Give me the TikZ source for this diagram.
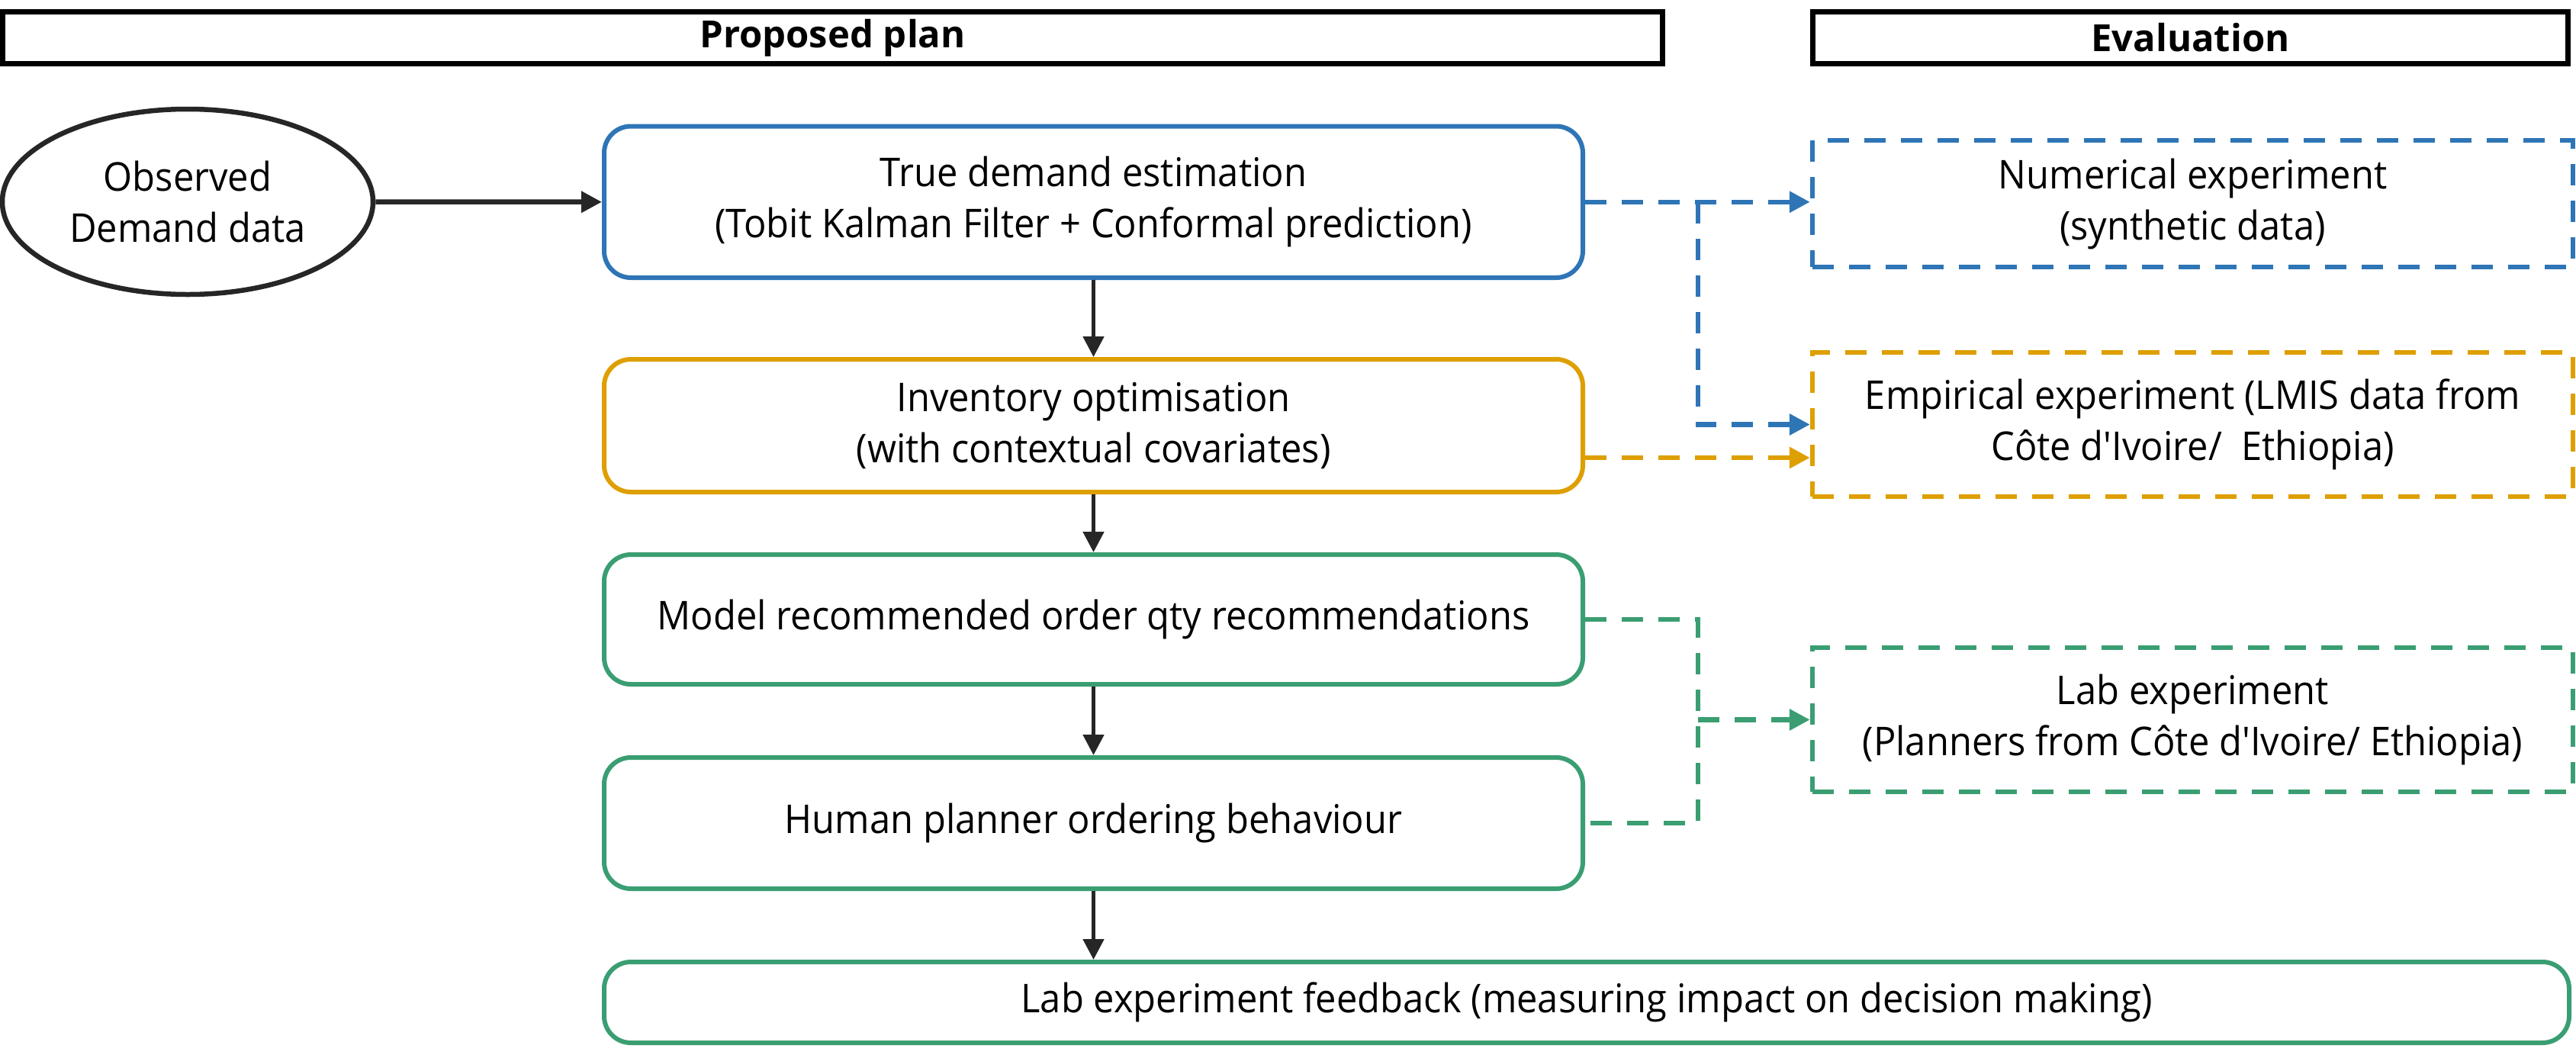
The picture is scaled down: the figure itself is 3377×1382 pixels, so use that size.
\documentclass[tikz,border=0pt]{standalone}
\usepackage{fontspec}
\setmainfont{Open Sans}
\newfontfamily\bodyfont{Open Sans}[FakeStretch=0.94, Ligatures=TeXOff]
\usetikzlibrary{arrows.meta,shapes.geometric}
\definecolor{cblue}{HTML}{2E75B6}
\definecolor{cyel}{HTML}{DE9F00}
\definecolor{cgreen}{HTML}{3A9E72}
\definecolor{cdark}{HTML}{262626}
\begin{document}
\begin{tikzpicture}[x=1pt,y=-1pt,
  txt/.style={font=\bodyfont\fontsize{52}{67}\selectfont, align=center, text=black},
  hdr/.style={draw=black, line width=7pt, minimum height=68pt, inner sep=0pt,
    font=\fontsize{49}{60}\selectfont\bfseries},
  plan/.style={txt, draw, line width=6pt, rounded corners=35pt, minimum width=1283pt, inner sep=0pt},
  evalbox/.style={txt, draw, line width=6.5pt, dash pattern=on 28pt off 20pt,
    minimum width=997pt, inner sep=0pt},
  solidarr/.style={draw=cdark, line width=5pt, -{Triangle[length=27pt,width=27pt]}},
  dasharr/.style={line width=6.5pt, dash pattern=on 28pt off 20pt},
  tip/.style={-{Triangle[length=27pt,width=27pt]}},
]
\useasboundingbox (0,0) rectangle (3377,1382);
% headers
\node[hdr, minimum width=2176pt] (hp) at (1091.5,49.5) {Proposed plan};
\node[hdr, minimum width=990pt] (he) at (2871.5,49.5) {Evaluation};
% input
\node[txt, ellipse, draw=cdark, line width=6.5pt, minimum width=486pt, minimum height=243pt, inner sep=0pt]
  (obs) at (246,264.5) {Observed\\Demand data};
% plan boxes
\node[plan, draw=cblue, minimum height=198.5pt] (tde) at (1433.5,264.75)
  {True demand estimation\\(Tobit Kalman Filter + Conformal prediction)};
\node[plan, draw=cyel, minimum height=174pt] (inv) at (1433.5,558)
  {Inventory optimisation\\(with contextual covariates)};
\node[plan, draw=cgreen, minimum height=170pt] (mod) at (1433.5,812)
  {\raisebox{8pt}{Model recommended order qty recommendations}};
\node[plan, draw=cgreen, minimum height=172pt] (hum) at (1433.5,1079)
  {\raisebox{6pt}{Human planner ordering behaviour}};
\node[plan, draw=cgreen, minimum height=106pt, minimum width=2576pt] (fb) at (2080,1314)
  {Lab experiment feedback (measuring impact on decision making)};
% evaluation boxes
\node[evalbox, draw=cblue, minimum height=166pt] (num) at (2874.5,267)
  {Numerical experiment\\(synthetic data)};
\node[evalbox, draw=cyel, minimum height=189pt] (emp) at (2874.5,556.5)
  {Empirical experiment (LMIS data from\\Côte d'Ivoire/\ \ Ethiopia)};
\node[evalbox, draw=cgreen, minimum height=189pt] (labx) at (2874.5,943.5)
  {Lab experiment\\(Planners from Côte d'Ivoire/ Ethiopia)};
% solid arrows
\draw[solidarr, line width=6.5pt] (obs.east) -- (tde.west);
\draw[solidarr] (tde.south) -- (inv.north);
\draw[solidarr] (inv.south) -- (mod.north);
\draw[solidarr] (mod.south) -- (hum.north);
\draw[solidarr] (hum.south) -- (hum.south |- fb.north);
% dashed connectors
\coordinate (bj) at (2226,264.75);
\draw[cblue, dasharr, tip] (tde.east) -- (tde.east -| num.west);
\draw[cblue, dasharr, tip] (bj) |- (emp.west);
\coordinate (ys) at ([yshift=-42pt]inv.east);
\draw[cyel, dasharr, tip] (ys) -- (ys -| emp.west);
\coordinate (gj) at (2226,944);
\draw[cgreen, dasharr] (mod.east) -- (mod.east -| gj) -- (hum.east -| gj) -- (hum.east);
\draw[cgreen, dasharr, tip] (labx.west -| gj) -- (labx.west);
\end{tikzpicture}
\end{document}
